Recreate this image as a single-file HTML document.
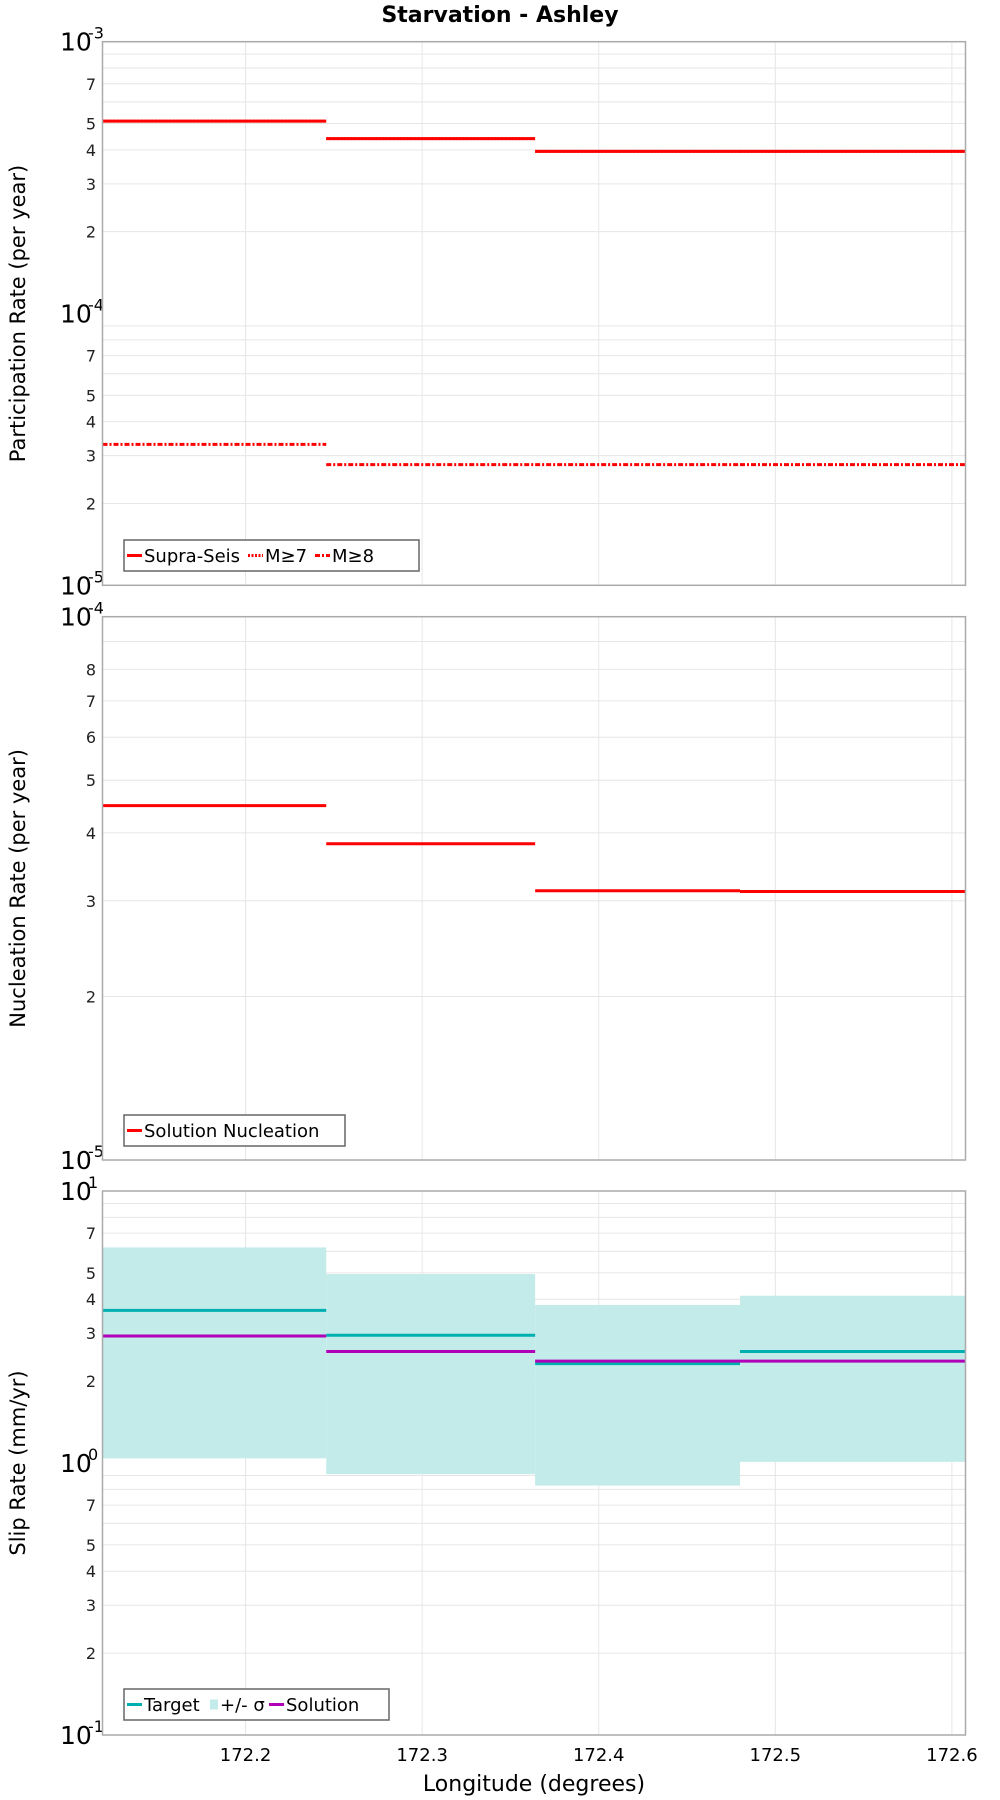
<!DOCTYPE html>
<html><head><meta charset="utf-8"><style>
body{margin:0;background:#fff;}
svg{display:block;font-family:"DejaVu Sans","Liberation Sans",sans-serif;}
</style></head><body>
<svg id="chart" width="1000" height="1800" viewBox="0 0 1000 1800" xmlns="http://www.w3.org/2000/svg">
<text x="500" y="22" text-anchor="middle" font-size="22" font-weight="bold">Starvation - Ashley</text>
<text x="534" y="1791" text-anchor="middle" font-size="22">Longitude (degrees)</text>
</svg>
<script>
// shared x data
const segEdges = [172.119, 172.2457, 172.364, 172.480, 172.6077];
const xTicks = [172.2, 172.3, 172.4, 172.5, 172.6];
const xTickLabels = ["172.2", "172.3", "172.4", "172.5", "172.6"];
// panel 1: participation
const supraSeis = [5.1e-4, 4.4e-4, 3.95e-4, 3.95e-4];
const m7 = [5.1e-4, 4.4e-4, 3.95e-4, 3.95e-4];
const m8 = [3.3e-5, 2.78e-5, 2.78e-5, 2.78e-5];
// panel 2: nucleation
const nucleation = [4.49e-5, 3.82e-5, 3.13e-5, 3.12e-5];
// panel 3: slip rates
const target = [3.64, 2.95, 2.32, 2.57];
const solution = [2.93, 2.57, 2.37, 2.37];
const sigmaHigh = [6.2, 4.95, 3.81, 4.12];
const sigmaLow = [1.04, 0.91, 0.826, 1.01];

const NS = "http://www.w3.org/2000/svg";
const svg = document.getElementById("chart");
const X0 = 102.5, X1 = 965.5;
function xs(v){return X0 + (v - segEdges[0]) / (segEdges[4] - segEdges[0]) * (X1 - X0);}
function mk(tag, attrs, parent){const e=document.createElementNS(NS,tag);for(const k in attrs)e.setAttribute(k,attrs[k]);(parent||svg).appendChild(e);return e;}

function panel(p){
  const g = mk("g",{});
  
  
  const ys = v => p.bot - (Math.log10(v) - p.lmin) / (p.lmax - p.lmin) * (p.bot - p.top);
  for(let d=p.lmin; d<p.lmax; d++){
    for(let m=2;m<=9;m++){
      const y = ys(m*Math.pow(10,d));
      const gl = mk("line",{x1:X0,x2:X1,y1:y,y2:y,stroke:"#e6e6e6","stroke-width":1},g);
      
      
      if(p.minorLabels.indexOf(m)>=0){
        const t = mk("text",{x:96,y:y+6,"text-anchor":"end","font-size":16,fill:"#222"},g);
        
        
        t.textContent = String(m);
      }
    }
  }
  for(let d=p.lmin; d<=p.lmax; d++){
    const y = ys(Math.pow(10,d));
    const t = mk("text",{x:60,y:y+9,"font-size":25},g);
    
    
    t.textContent = "10";
    const s = mk("text",{x:88,y:y-3,"font-size":16},g);
    
    
    s.textContent = String(d);
  }
  xTicks.forEach((v)=>{
    const x = xs(v);
    const gl = mk("line",{x1:x,x2:x,y1:p.top,y2:p.bot,stroke:"#e6e6e6","stroke-width":1},g);
    
    
  });
  const yt = mk("text",{x:0,y:0,"text-anchor":"middle","font-size":21,transform:`translate(25,${(p.top+p.bot)/2}) rotate(-90)`},g);
  
  
  yt.textContent = p.ylabel;
  p.draw(g, ys);
  const fr = mk("rect",{x:X0,y:p.top,width:X1-X0,height:p.bot-p.top,fill:"none",stroke:"#aaa","stroke-width":1.5},g);
  
  
  const lg = mk("g",{},g);
  
  
  const lr = mk("rect",{x:124,y:p.legY,width:p.legW,height:31,fill:"#fff",stroke:"#666","stroke-width":1.5},lg);
  
  
  let lx = 127;
  const cy = p.legY + 15.5;
  p.legend.forEach(it=>{
    if(it.box){
      const r = mk("rect",{x:lx,y:cy-5,width:8,height:10,fill:it.color},lg);
      
      
      lx += 10;
    } else {
      const l = mk("line",{x1:lx,x2:lx+15,y1:cy,y2:cy,stroke:it.color,"stroke-width":3,"stroke-dasharray":it.dash||"none"},lg);
      
      
      lx += 17;
    }
    const t = mk("text",{x:lx,y:cy+6.5,"font-size":18},lg);
    
    
    t.textContent = it.label;
    lx += it.w;
  });
}
function steps(g, ys, vals, color, dash, name){
  vals.forEach((v,i)=>{
    const y = ys(v);
    const l = mk("line",{x1:xs(segEdges[i]),x2:xs(segEdges[i+1]),y1:y,y2:y,stroke:color,"stroke-width":3,"stroke-dasharray":dash||"none"},g);
    
    
  });
}

panel({name:"participation-panel",top:41.7,bot:585.3,lmin:-5,lmax:-3,minorLabels:[2,3,4,5,7],ylabel:"Participation Rate (per year)",legY:540,legW:295,
  legend:[{color:"red",label:"Supra-Seis",w:104},{color:"red",dash:"2,1.5",label:"M≥7",w:50},{color:"red",dash:"5,2,2,2",label:"M≥8",w:50}],
  draw:(g,ys)=>{steps(g,ys,m7,"#ff3030","2,1.5","m7-segment");steps(g,ys,supraSeis,"red",null,"supra-seis-segment");steps(g,ys,m8,"red","5,2,2,2","m8-segment");}});
panel({name:"nucleation-panel",top:616.7,bot:1160,lmin:-5,lmax:-4,minorLabels:[2,3,4,5,6,7,8],ylabel:"Nucleation Rate (per year)",legY:1115,legW:221,
  legend:[{color:"red",label:"Solution Nucleation",w:200}],
  draw:(g,ys)=>{steps(g,ys,nucleation,"red",null,"nucleation-segment");}});
panel({name:"slip-rate-panel",top:1191,bot:1735,lmin:-1,lmax:1,minorLabels:[2,3,4,5,7],ylabel:"Slip Rate (mm/yr)",legY:1689,legW:265,
  legend:[{color:"#00b0b0",label:"Target",w:66},{box:true,color:"#c2ebea",label:"+/- σ",w:49},{color:"#b000b8",label:"Solution",w:80}],
  draw:(g,ys)=>{
    sigmaHigh.forEach((h,i)=>{
      const r = mk("rect",{x:xs(segEdges[i]),y:ys(h),width:xs(segEdges[i+1])-xs(segEdges[i]),height:ys(sigmaLow[i])-ys(h),fill:"#c2ebea"},g);
      
      
    });
    steps(g,ys,target,"#00b0b0",null,"target-segment");
    steps(g,ys,solution,"#b000b8",null,"solution-segment");
  }});
xTicks.forEach((v,i)=>{
  const t = mk("text",{x:xs(v),y:1761,"text-anchor":"middle","font-size":18});
  
  
  t.textContent = xTickLabels[i];
});
</script>
</body></html>
